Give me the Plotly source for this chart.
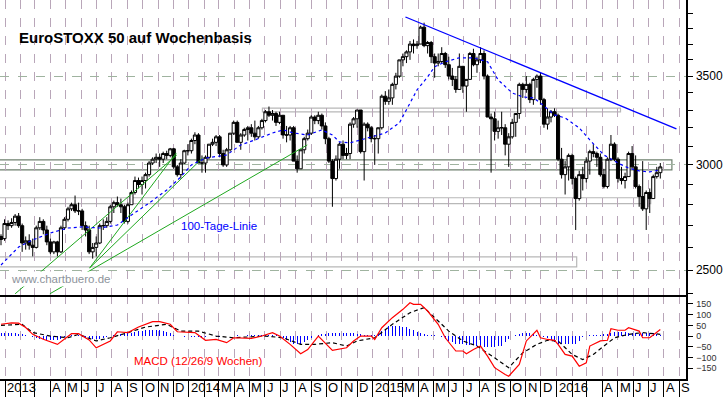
import math
import pandas as pd
import plotly.graph_objects as go

# ---------------- data ----------------
weeks = pd.date_range("2012-12-24", periods=188, freq="7D")

open_ = [2650,2640,2710,2700,2715,2745,2700,2620,2630,2610,
         2600,2690,2720,2680,2625,2580,2625,2580,2690,2730,
         2780,2800,2770,2770,2700,2680,2580,2600,2620,2700,
         2700,2720,2790,2810,2800,2790,2720,2800,2860,2920,
         2900,2920,2950,3010,3030,3040,3030,3060,3050,3085,
         2990,2950,3010,3075,3075,3130,3160,3010,3010,3040,
         3110,3120,3150,3060,3000,3080,3170,3230,3120,3160,
         3190,3200,3170,3150,3200,3240,3290,3270,3280,3230,
         3270,3160,3160,3200,3020,2980,3080,3140,3170,3260,
         3240,3270,3210,3140,3020,2930,3030,3110,3050,3060,
         3220,3250,3300,3070,3220,3200,3140,3140,3200,3380,
         3350,3370,3450,3500,3600,3620,3650,3700,3690,3700,
         3810,3690,3710,3620,3580,3590,3640,3570,3500,3480,
         3420,3560,3440,3480,3640,3570,3600,3640,3500,3260,
         3250,3180,3200,3200,3110,3150,3230,3280,3450,3420,
         3450,3360,3480,3500,3360,3220,3260,3290,3270,3030,
         2950,2990,3050,2930,2830,2950,2930,3020,3070,3060,
         3040,2950,2890,3030,3110,3030,2930,2920,2940,3060,
         2990,2890,2840,2780,2860,2830,2940,2960]
high = [2660,2730,2725,2735,2755,2760,2710,2650,2660,2640,
        2700,2740,2730,2700,2640,2630,2630,2700,2740,2790,
        2810,2845,2810,2780,2720,2700,2620,2650,2710,2730,
        2740,2800,2820,2840,2830,2800,2810,2870,2940,2935,
        2940,2960,3020,3040,3060,3060,3070,3075,3090,3090,
        3000,3030,3080,3110,3140,3175,3170,3050,3050,3110,
        3140,3160,3160,3080,3090,3170,3240,3240,3170,3200,
        3210,3220,3240,3210,3250,3300,3320,3300,3290,3290,
        3270,3210,3210,3210,3050,3080,3150,3190,3270,3270,
        3290,3280,3230,3150,3030,3050,3120,3130,3090,3230,
        3260,3300,3300,3230,3230,3210,3160,3200,3390,3410,
        3420,3460,3520,3600,3640,3660,3720,3730,3720,3820,
        3840,3720,3720,3640,3640,3680,3650,3620,3550,3500,
        3640,3560,3480,3650,3670,3620,3680,3660,3510,3280,
        3290,3240,3290,3220,3170,3250,3280,3460,3460,3500,
        3460,3490,3510,3520,3370,3310,3300,3310,3280,3090,
        3020,3060,3060,2940,2970,2990,3040,3080,3110,3070,
        3060,2980,3040,3160,3120,3040,2990,2960,3070,3100,
        3050,2900,3020,2870,2880,2950,2990,3010]
low = [2610,2630,2680,2690,2700,2690,2580,2590,2590,2560,
       2595,2680,2660,2610,2570,2570,2560,2575,2680,2720,
       2770,2760,2750,2680,2650,2570,2550,2560,2615,2680,
       2690,2710,2760,2790,2760,2710,2710,2800,2850,2880,
       2850,2880,2940,3000,3010,2990,3010,3030,3040,2980,
       2940,2930,3005,3050,3060,3110,3010,2960,2960,3030,
       3100,3100,3040,2990,2990,3070,3160,3120,3080,3150,
       3130,3150,3130,3140,3190,3230,3260,3240,3210,3220,
       3140,3120,3130,3030,2960,2980,3060,3130,3160,3220,
       3220,3190,3110,3010,2790,2920,2980,3030,3030,3030,
       3200,3200,3060,2920,3180,3120,3000,3060,3190,3330,
       3330,3330,3420,3490,3560,3580,3600,3640,3670,3700,
       3680,3640,3580,3490,3560,3580,3550,3480,3440,3400,
       3420,3400,3290,3480,3560,3520,3580,3480,3260,2960,
       3130,3140,3160,3050,2990,3140,3150,3250,3370,3400,
       3340,3330,3430,3330,3200,3190,3230,3260,3020,2930,
       2850,2920,2900,2680,2820,2870,2910,2950,3040,2990,
       2940,2880,2880,3020,3020,2910,2900,2880,2940,2980,
       2880,2790,2770,2680,2760,2830,2930,2930]
close = [2636,2710,2700,2715,2745,2700,2620,2630,2610,2600,
         2690,2720,2680,2625,2580,2625,2580,2690,2730,2780,
         2800,2770,2770,2700,2680,2580,2600,2620,2700,2700,
         2720,2790,2810,2800,2790,2720,2800,2860,2920,2900,
         2920,2950,3010,3030,3040,3030,3060,3050,3085,2990,
         2950,3010,3075,3075,3130,3160,3010,3010,3040,3110,
         3120,3150,3060,3000,3080,3170,3230,3120,3160,3190,
         3200,3170,3150,3200,3240,3290,3270,3280,3230,3270,
         3160,3160,3200,3020,2980,3080,3140,3170,3260,3240,
         3270,3210,3140,3020,2930,3030,3110,3050,3060,3220,
         3250,3300,3070,3220,3200,3140,3140,3200,3380,3350,
         3370,3450,3500,3600,3620,3650,3700,3690,3700,3810,
         3690,3710,3620,3580,3590,3640,3570,3500,3480,3420,
         3560,3440,3480,3640,3570,3600,3640,3500,3260,3250,
         3180,3200,3200,3110,3150,3230,3280,3450,3420,3450,
         3360,3480,3500,3360,3220,3260,3290,3270,3030,2950,
         2990,3050,2930,2830,2950,2930,3020,3070,3060,3040,
         2950,2890,3030,3110,3030,2930,2920,2940,3060,2990,
         2890,2840,2780,2860,2830,2940,2960,2990]

# 100-day (20-week) moving average, read at selected weeks
ma_week = [0,5,9,14,19,23,28,33,37,42,47,51,54,58,64,68,72,77,80,83,87,91,94,96,99,
           102,105,109,113,115,118,121,123,126,130,134,138,141,145,148,151,153,157,160,
           164,167,169,171,175,178,181,184,187]
ma_value = [2522,2602,2634,2666,2689,2694,2689,2703,2750,2808,2872,2938,3000,3036,3052,
            3106,3133,3171,3188,3171,3160,3188,3160,3122,3117,3133,3149,3171,3227,3300,
            3417,3495,3557,3588,3613,3613,3588,3477,3399,3376,3370,3340,3272,3255,3199,
            3133,3090,3052,3010,2984,2969,2964,2974]

# MACD line, read at selected weeks
macd_week = [0,3,5,7,9,12,16,18,20,22,25,27,29,31,33,36,39,43,45,48,50,53,55,58,61,64,66,
             71,74,77,79,82,85,87,90,94,98,100,102,105,106,108,111,114,116,117,119,121,124,
             126,129,131,132,134,136,138,140,143,144,147,149,152,153,155,157,158,160,162,164,
             166,167,170,172,173,175,177,178,181,182,184,187]
macd_value = [55,62,60,40,8,-15,-39,-15,11,11,-18,-55,-40,-23,20,16,42,67,67,55,20,16,16,
              -20,-16,-31,-8,-11,0,16,0,-39,-83,-63,0,-67,-55,-23,0,0,-16,39,86,125,156,148,
              148,117,55,-8,-70,-70,-83,-63,-47,-94,-148,-180,-188,-133,-23,27,-8,-16,-20,-39,
              -86,-94,-141,-125,-47,-23,-20,34,27,27,39,23,-8,-8,31]
# signal line, read at selected weeks
signal_week = [0,6,9,14,19,22,27,31,36,41,47,51,56,61,66,75,80,85,89,94,98,101,106,111,116,
               120,123,127,131,135,140,144,148,152,155,158,162,165,168,171,174,178,182,187]
signal_value = [50,55,16,0,-8,8,-23,-8,16,42,55,23,23,0,-8,0,-8,-39,-39,-31,-47,-23,-8,55,109,
                133,86,23,-23,-47,-102,-148,-78,-39,-20,-23,-86,-110,-86,-47,-8,8,16,8]
# histogram, one value per week
hist = [12,12,12,12,12,10,8,5,0,-3,
        -8,-12,-16,-20,-20,-20,-18,-12,-5,2,
        5,5,4,-5,-10,-15,-15,-15,-12,-8,
        -4,0,3,5,8,10,12,15,18,22,
        25,27,28,30,30,28,25,20,12,5,
        0,-2,-3,-2,-3,-4,-5,-4,-3,-2,
        -2,-3,-3,-2,0,2,2,3,2,2,
        3,4,5,5,5,6,5,4,3,0,
        -10,-20,-30,-38,-39,-35,-30,-20,-8,0,
        5,8,10,12,12,13,14,14,15,15,
        12,10,8,6,5,5,6,15,25,35,
        45,47,47,45,42,40,35,28,20,12,
        8,6,5,3,2,-5,-15,-23,-30,-35,
        -35,-38,-40,-42,-43,-45,-48,-50,-50,-52,
        -50,-48,-45,-30,-15,0,5,10,15,15,
        12,8,5,0,-5,-10,-20,-30,-35,-38,
        -39,-39,-38,-35,-25,-5,2,3,4,4,
        5,8,10,15,18,20,20,18,15,15,
        12,10,12,15,15,12,8,5]

# resistance trend line (blue)
trend_dates = ["2015-03-07", "2016-08-26"]
trend_values = [3878, 3194]
# support lines (green)
support_lines = [
    (["2013-01-21", "2013-12-08"], [2399, 3052]),
    (["2013-06-18", "2013-12-07"], [2509, 3063]),
    (["2013-06-18", "2014-01-28"], [2509, 3036]),
    (["2013-03-31", "2014-08-24"], [2399, 3106]),
]
# horizontal zones
zone_start = ["2012-12-01", "2014-05-27", "2012-12-01", "2012-12-01"]
zone_end = ["2016-08-17", "2016-05-07", "2016-07-06", "2016-02-10"]
zone_low = [2974, 3289, 2805, 2514]
zone_high = [3026, 3311, 2834, 2558]
zone_color = ["#6e806e", "#b8b8b8", "#b8b8b8", "#b8b8b8"]

# bottom axis labels
label_dates = ["2013-01-01","2013-04-01","2013-05-01","2013-06-01","2013-07-01","2013-08-01",
               "2013-09-01","2013-10-01","2013-11-01","2013-12-01","2014-01-01","2014-03-01",
               "2014-04-01","2014-05-01","2014-06-01","2014-07-01","2014-08-01","2014-09-01",
               "2014-10-01","2014-11-01","2014-12-01","2015-01-01","2015-03-01","2015-04-01",
               "2015-05-01","2015-06-01","2015-07-01","2015-08-01","2015-09-01","2015-10-01",
               "2015-11-01","2015-12-01","2016-01-01","2016-04-01","2016-05-01","2016-06-01",
               "2016-07-01","2016-08-01","2016-09-01"]
label_texts = ["2013","A","M","J","J","A","S","O","N","D","2014","M","A","M","J","J","A","S",
               "O","N","D","2015","M","A","M","J","J","A","S","O","N","D","2016","A","M","J",
               "J","A","S"]

price_ticks = [2500, 3000, 3500]
price_minor = [2400,2600,2700,2800,2900,3100,3200,3300,3400,3600,3700,3800,3900]
macd_ticks = [-150, -100, -50, 0, 50, 100, 150]

X_RANGE = ["2012-12-22", "2016-09-14"]
P_RANGE = [2394, 3994]
M_RANGE = [-201, 192]

VGRID = "#b9a6b9"
HGRID = "#9fb39f"
FONT = "Liberation Sans, Arial, sans-serif"

# ---------------- figure ----------------
fig = go.Figure()

for d, v in support_lines:
    fig.add_trace(go.Scatter(x=d, y=v, mode="lines", xaxis="x2", yaxis="y2",
                             line=dict(color="#1fa81f", width=1), hoverinfo="skip"))

fig.add_trace(go.Scatter(x=[weeks[i] for i in ma_week], y=ma_value, mode="lines",
                         xaxis="x2", yaxis="y2",
                         line=dict(color="#0000ff", width=1.2, dash="3px,3px"), hoverinfo="skip"))

fig.add_trace(go.Candlestick(x=weeks, open=open_, high=high, low=low, close=close,
                             xaxis="x2", yaxis="y2", whiskerwidth=0,
                             increasing=dict(line=dict(color="black", width=1), fillcolor="white"),
                             decreasing=dict(line=dict(color="black", width=1), fillcolor="black"),
                             hoverinfo="skip"))

fig.add_trace(go.Scatter(x=trend_dates, y=trend_values, mode="lines", xaxis="x2", yaxis="y2",
                         line=dict(color="#0000ff", width=1.3), hoverinfo="skip"))

# MACD panel
fig.add_trace(go.Bar(x=weeks, y=hist, xaxis="x", yaxis="y", marker=dict(color="#0000ff", line=dict(width=0)),
                     width=2.0 * 86400000, hoverinfo="skip"))
fig.add_trace(go.Scatter(x=[weeks[i] for i in signal_week], y=signal_value, mode="lines",
                         xaxis="x", yaxis="y", line=dict(color="black", width=1.2, dash="4px,3px"),
                         hoverinfo="skip"))
fig.add_trace(go.Scatter(x=[weeks[i] for i in macd_week], y=macd_value, mode="lines",
                         xaxis="x", yaxis="y", line=dict(color="#ff0000", width=1.2),
                         hoverinfo="skip"))

shapes = []
for x0, x1, y0, y1, c in zip(zone_start, zone_end, zone_low, zone_high, zone_color):
    shapes.append(dict(type="rect", xref="x2", yref="y2", x0=x0, x1=x1, y0=y0, y1=y1,
                       line=dict(color=c, width=1.2), fillcolor="rgba(0,0,0,0)", layer="below"))

annotations = []
for d, t in zip(label_dates, label_texts):
    annotations.append(dict(x=d, xref="x", y=0, yref="paper", yanchor="top", xanchor="left",
                            text=t, showarrow=False, xshift=0, yshift=1,
                            font=dict(family=FONT, size=13, color="black")))
annotations += [
    dict(x=17/688, y=(379-38)/379, xref="paper", yref="paper", xanchor="left", yanchor="middle",
         text="<b>EuroSTOXX 50 auf Wochenbasis</b>", showarrow=False,
         font=dict(family=FONT, size=15, color="black")),
    dict(x=180/688, y=(379-226)/379, xref="paper", yref="paper", xanchor="left", yanchor="middle",
         text="100-Tage-Linie", showarrow=False, font=dict(family=FONT, size=11.5, color="#0000ff")),
    dict(x=9/688, y=(379-279)/379, xref="paper", yref="paper", xanchor="left", yanchor="middle",
         text="www.chartbuero.de", showarrow=False, bgcolor="white", borderpad=1,
         font=dict(family=FONT, size=11.5, color="#8d939b")),
    dict(x=132/688, y=(379-361)/379, xref="paper", yref="paper", xanchor="left", yanchor="middle",
         text="MACD (12/26/9 Wochen)", showarrow=False, font=dict(family=FONT, size=11.5, color="#ff0000")),
]

split = (379 - 295) / 379

fig.update_layout(
    width=723, height=397, margin=dict(l=0, r=35, t=0, b=18),
    paper_bgcolor="white", plot_bgcolor="white", showlegend=False,
    shapes=shapes, annotations=annotations, bargap=0, boxgap=0.12, boxgroupgap=0,
    xaxis=dict(domain=[0, 1], anchor="y", type="date", range=X_RANGE, dtick="M1", tick0="2013-01-01",
               showgrid=True, griddash="dash", gridcolor=VGRID, gridwidth=1,
               ticks="outside", ticklen=18, tickcolor="black", tickwidth=1, showticklabels=False,
               showline=True, linecolor="black", linewidth=1.5, zeroline=False,
               rangeslider=dict(visible=False), fixedrange=True),
    xaxis2=dict(domain=[0, 1], anchor="y2", type="date", range=X_RANGE, matches="x", dtick="M1",
                tick0="2013-01-01", showgrid=True, griddash="dash", gridcolor=VGRID, gridwidth=1,
                ticks="", showticklabels=False, showline=True, linecolor="black", linewidth=1.5,
                zeroline=False, rangeslider=dict(visible=False)),
    yaxis=dict(domain=[0, split], anchor="x", range=M_RANGE, side="right", showgrid=False,
               zeroline=False, tickvals=macd_ticks, ticks="outside", ticklen=5, tickcolor="black",
               showline=True, linecolor="black", linewidth=1.5, ticklabelstandoff=2,
               tickfont=dict(family=FONT, size=9, color="#333333")),
    yaxis2=dict(domain=[split, 1], anchor="x2", type="log",
                range=[math.log10(P_RANGE[0]), math.log10(P_RANGE[1])], side="right",
                tickvals=price_ticks, ticktext=[str(v) for v in price_ticks],
                ticks="outside", ticklen=5, tickcolor="black", ticklabelstandoff=1,
                showgrid=True, griddash="dash", gridcolor=HGRID, gridwidth=1, zeroline=False,
                minor=dict(tickvals=price_minor, ticks="outside", ticklen=5, tickcolor="black", showgrid=False),
                showline=True, linecolor="black", linewidth=1.5,
                tickfont=dict(family=FONT, size=12, color="black")),
)

fig.write_html("out.html", config={"displayModeBar": False, "staticPlot": True},
               post_script="document.body.style.margin='0px';document.body.style.overflow='hidden';")
